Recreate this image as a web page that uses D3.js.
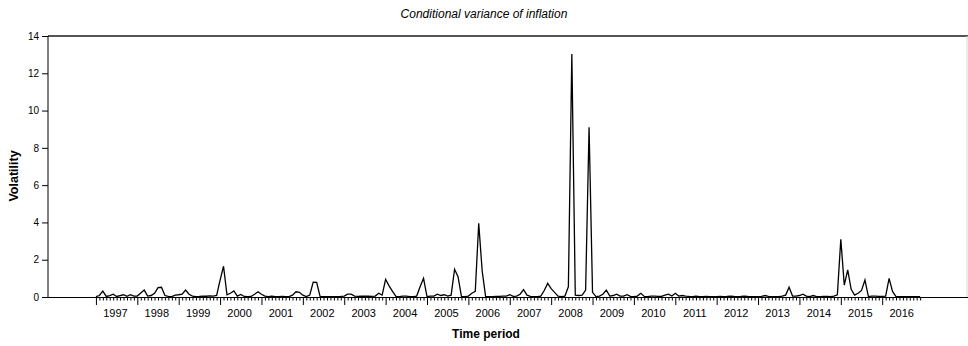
<!DOCTYPE html>
<html>
<head>
<meta charset="utf-8">
<script src="https://cdn.jsdelivr.net/npm/d3@7"></script>
<style>
  html, body { margin: 0; padding: 0; background: #fff; }
  svg { display: block; font-family: "Liberation Sans", Arial, sans-serif; }
</style>
</head>
<body>
<svg id="chart" width="968" height="346"></svg>
<script>
// ---- data (monthly, Jan 1997 .. Dec 2016) ----
const startYear = 1997;
const yearLabels = ["1997","1998","1999","2000","2001","2002","2003","2004","2005","2006",
                    "2007","2008","2009","2010","2011","2012","2013","2014","2015","2016"];
const yTicks = [0, 2, 4, 6, 8, 10, 12, 14];

const v1997 = [0.02, 0.08, 0.32, 0.03, 0.08, 0.15, 0.03, 0.08, 0.12, 0.04, 0.12, 0.05];
const v1998 = [0.05, 0.22, 0.37, 0.05, 0.08, 0.20, 0.50, 0.52, 0.08, 0.03, 0.02, 0.10];
const v1999 = [0.12, 0.15, 0.37, 0.15, 0.05, 0.02, 0.03, 0.05, 0.04, 0.06, 0.05, 0.08];
const v2000 = [0.90, 1.65, 0.12, 0.20, 0.33, 0.05, 0.14, 0.03, 0.02, 0.03, 0.15, 0.28];
const v2001 = [0.15, 0.05, 0.02, 0.04, 0.02, 0.02, 0.03, 0.02, 0.02, 0.10, 0.28, 0.25];
const v2002 = [0.10, 0.02, 0.10, 0.80, 0.78, 0.03, 0.02, 0.02, 0.02, 0.02, 0.02, 0.03];
const v2003 = [0.05, 0.15, 0.15, 0.05, 0.03, 0.05, 0.04, 0.05, 0.03, 0.05, 0.20, 0.10];
const v2004 = [0.95, 0.60, 0.30, 0.03, 0.02, 0.05, 0.05, 0.02, 0.02, 0.05, 0.55, 1.00];
const v2005 = [0.02, 0.05, 0.05, 0.15, 0.08, 0.12, 0.05, 0.10, 1.49, 1.09, 0.02, 0.02];
const v2006 = [0.05, 0.20, 0.30, 3.95, 1.40, 0.02, 0.02, 0.02, 0.03, 0.03, 0.05, 0.05];
const v2007 = [0.12, 0.03, 0.05, 0.15, 0.40, 0.10, 0.03, 0.02, 0.02, 0.05, 0.35, 0.73];
const v2008 = [0.45, 0.25, 0.05, 0.02, 0.05, 0.55, 13.04, 0.10, 0.08, 0.10, 0.37, 9.10];
const v2009 = [0.25, 0.02, 0.05, 0.15, 0.37, 0.05, 0.08, 0.15, 0.05, 0.05, 0.12, 0.03];
const v2010 = [0.02, 0.05, 0.20, 0.03, 0.02, 0.05, 0.05, 0.03, 0.03, 0.10, 0.15, 0.05];
const v2011 = [0.20, 0.05, 0.08, 0.05, 0.03, 0.02, 0.05, 0.02, 0.02, 0.03, 0.02, 0.02];
const v2012 = [0.02, 0.03, 0.02, 0.03, 0.05, 0.03, 0.02, 0.03, 0.05, 0.03, 0.02, 0.02];
const v2013 = [0.02, 0.03, 0.08, 0.03, 0.02, 0.02, 0.02, 0.05, 0.10, 0.52, 0.05, 0.05];
const v2014 = [0.08, 0.15, 0.05, 0.02, 0.08, 0.02, 0.02, 0.03, 0.03, 0.02, 0.05, 0.12];
const v2015 = [3.10, 0.64, 1.45, 0.41, 0.10, 0.20, 0.35, 0.91, 0.02, 0.05, 0.05, 0.03];
const v2016 = [0.03, 0.05, 1.00, 0.30, 0.02, 0.02, 0.02, 0.02, 0.02, 0.02, 0.02, 0.02];

const variance = [].concat(v1997, v1998, v1999, v2000, v2001, v2002, v2003, v2004, v2005, v2006,
                           v2007, v2008, v2009, v2010, v2011, v2012, v2013, v2014, v2015, v2016);

// ---- layout ----
const svg = d3.select("#chart");
const L = 48, R = 966, T = 36, B = 297;

const x = d3.scaleLinear().domain([-13.9, 252.3]).range([L, R]);
const y = d3.scaleLinear().domain([0, 14]).range([B, T]);

// frame: top (thick grey) and right (faint)
svg.append("line").attr("x1", L).attr("x2", R + 2).attr("y1", T).attr("y2", T)
  .attr("stroke", "#555").attr("stroke-width", 2);
svg.append("line").attr("x1", R + 1).attr("x2", R + 1).attr("y1", T).attr("y2", B)
  .attr("stroke", "#d8d8d8").attr("stroke-width", 1);

// y axis
const yAxis = svg.append("g").attr("transform", `translate(${L},0)`)
  .call(d3.axisLeft(y).tickValues(yTicks).tickSize(6).tickPadding(3).tickFormat(d3.format("d")));
yAxis.select(".domain").attr("stroke", "#000").attr("d", `M0,${T}V${B}`);
yAxis.selectAll(".tick line").attr("stroke", "#000");
yAxis.selectAll(".tick text").attr("font-size", 10).attr("font-family", "Liberation Sans, Arial, sans-serif").attr("fill", "#000");

// x axis: monthly ticks, longer at January
const months = d3.range(variance.length);
const xAxis = svg.append("g").attr("transform", `translate(0,${B})`)
  .call(d3.axisBottom(x).tickValues(months).tickSize(0).tickFormat(""));
xAxis.select(".domain").attr("stroke", "#000").attr("d", `M${L},0.5H${R + 2}`);
xAxis.selectAll(".tick line")
  .attr("stroke", "#000")
  .attr("y2", d => (d % 12 === 0 ? 8 : 3.5));

// year labels centred within each year
const labelPos = yearLabels.map((_, i) => i * 12 + 5.5);
const xLab = svg.append("g").attr("transform", `translate(0,${B})`)
  .call(d3.axisBottom(x).tickValues(labelPos).tickSize(0).tickPadding(12)
    .tickFormat((d, i) => yearLabels[i]));
xLab.select(".domain").remove();
xLab.selectAll(".tick text").attr("font-size", 11).attr("font-family", "Liberation Sans, Arial, sans-serif").attr("fill", "#000");

// series line
const line = d3.line().x((d, i) => x(i)).y(d => y(d));
svg.append("path").datum(variance)
  .attr("d", line)
  .attr("fill", "none")
  .attr("stroke", "#000")
  .attr("stroke-width", 1.3)
  .attr("stroke-linejoin", "miter");

// titles
svg.append("text").attr("x", 484).attr("y", 18).attr("text-anchor", "middle")
  .attr("font-size", 12).attr("font-style", "italic").text("Conditional variance of inflation");
svg.append("text").attr("x", 486).attr("y", 338).attr("text-anchor", "middle")
  .attr("font-size", 12).attr("font-weight", "bold").text("Time period");
svg.append("text").attr("transform", "translate(18,176) rotate(-90)").attr("text-anchor", "middle")
  .attr("font-size", 12.5).attr("font-weight", "bold").text("Volatility");
</script>
</body>
</html>
